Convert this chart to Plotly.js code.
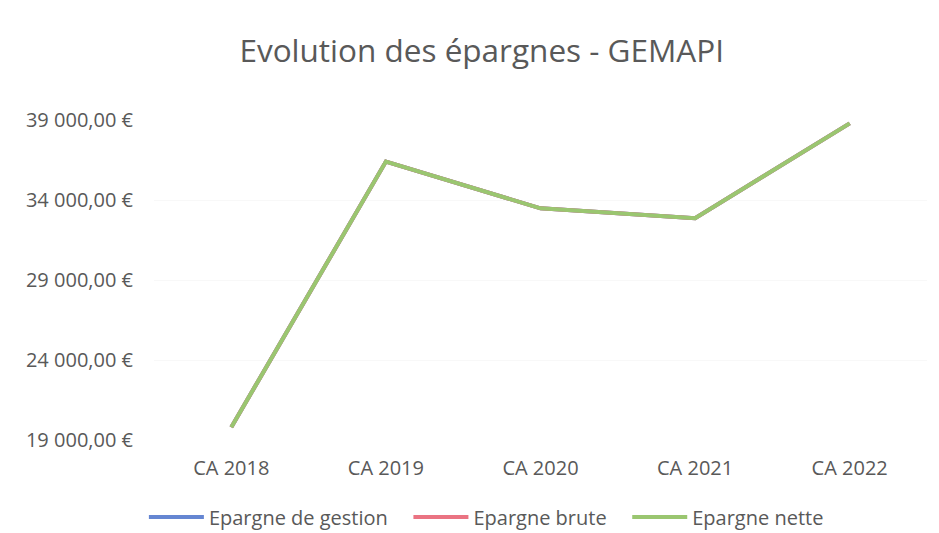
<!DOCTYPE html>
<html>
<head>
<meta charset="utf-8">
<script src="https://cdn.plot.ly/plotly-3.0.1.min.js"></script>
<style>html,body{margin:0;padding:0;background:#fff;}#chart{width:939px;height:533px;}</style>
</head>
<body>
<div id="chart"></div>
<script>
const categories = ["CA 2018", "CA 2019", "CA 2020", "CA 2021", "CA 2022"];
const epargneGestion = [19800, 36400, 33480, 32860, 38790];
const epargneBrute = [19800, 36400, 33480, 32860, 38790];
const epargneNette = [19800, 36400, 33480, 32860, 38790];
const seriesNames = ["Epargne de gestion", "Epargne brute", "Epargne nette"];
const yTickVals = [19000, 24000, 29000, 34000, 39000];

function fmtEuro(v) {
  const parts = v.toFixed(2).split(".");
  const intPart = parts[0].replace(/\B(?=(\d{3})+(?!\d))/g, " ");
  return intPart + "," + parts[1] + " €";
}
const yTickText = yTickVals.map(fmtEuro);

const colors = ["#6586D2", "#EA7382", "#9AC670"];
const allSeries = [epargneGestion, epargneBrute, epargneNette];
const pad = "\u00a0\u00a0\u00a0";

const traces = allSeries.map((vals, i) => ({
  x: categories,
  y: vals,
  name: seriesNames[i] + (i < 2 ? pad : ""),
  type: "scatter",
  mode: "lines",
  line: {color: colors[i], width: 4},
  hoverinfo: "x+y+name"
}));

const font = "'Open Sans', 'Noto Sans', sans-serif";
const layout = {
  width: 939,
  height: 533,
  paper_bgcolor: "#ffffff",
  plot_bgcolor: "#ffffff",
  margin: {l: 154, r: 12, t: 120, b: 93},
  title: {
    text: "Evolution des épargnes - GEMAPI",
    font: {family: font, size: 31.5, color: "#595959"},
    x: 0.513, xanchor: "center",
    y: 0.905, yanchor: "middle"
  },
  xaxis: {
    type: "category",
    range: [-0.5, 4.5],
    showgrid: false,
    zeroline: false,
    showline: false,
    ticks: "",
    tickfont: {family: font, size: 20, color: "#595959"},
    ticklabelstandoff: 14
  },
  yaxis: {
    range: [19000, 39000],
    tickmode: "array",
    tickvals: yTickVals,
    ticktext: yTickText,
    showgrid: true,
    gridcolor: "#f8f8f8",
    zeroline: false,
    showline: false,
    ticks: "",
    tickfont: {family: font, size: 20, color: "#595959"},
    ticklabelstandoff: 20
  },
  showlegend: true,
  legend: {
    orientation: "h",
    x: 0.43, xanchor: "center",
    yref: "container",
    y: 0.03, yanchor: "middle",
    font: {family: font, size: 20, color: "#595959"},
    itemwidth: 55,
    traceorder: "normal",
    bgcolor: "rgba(0,0,0,0)"
  }
};

Plotly.newPlot("chart", traces, layout, {displayModeBar: false, staticPlot: true});
</script>
</body>
</html>
